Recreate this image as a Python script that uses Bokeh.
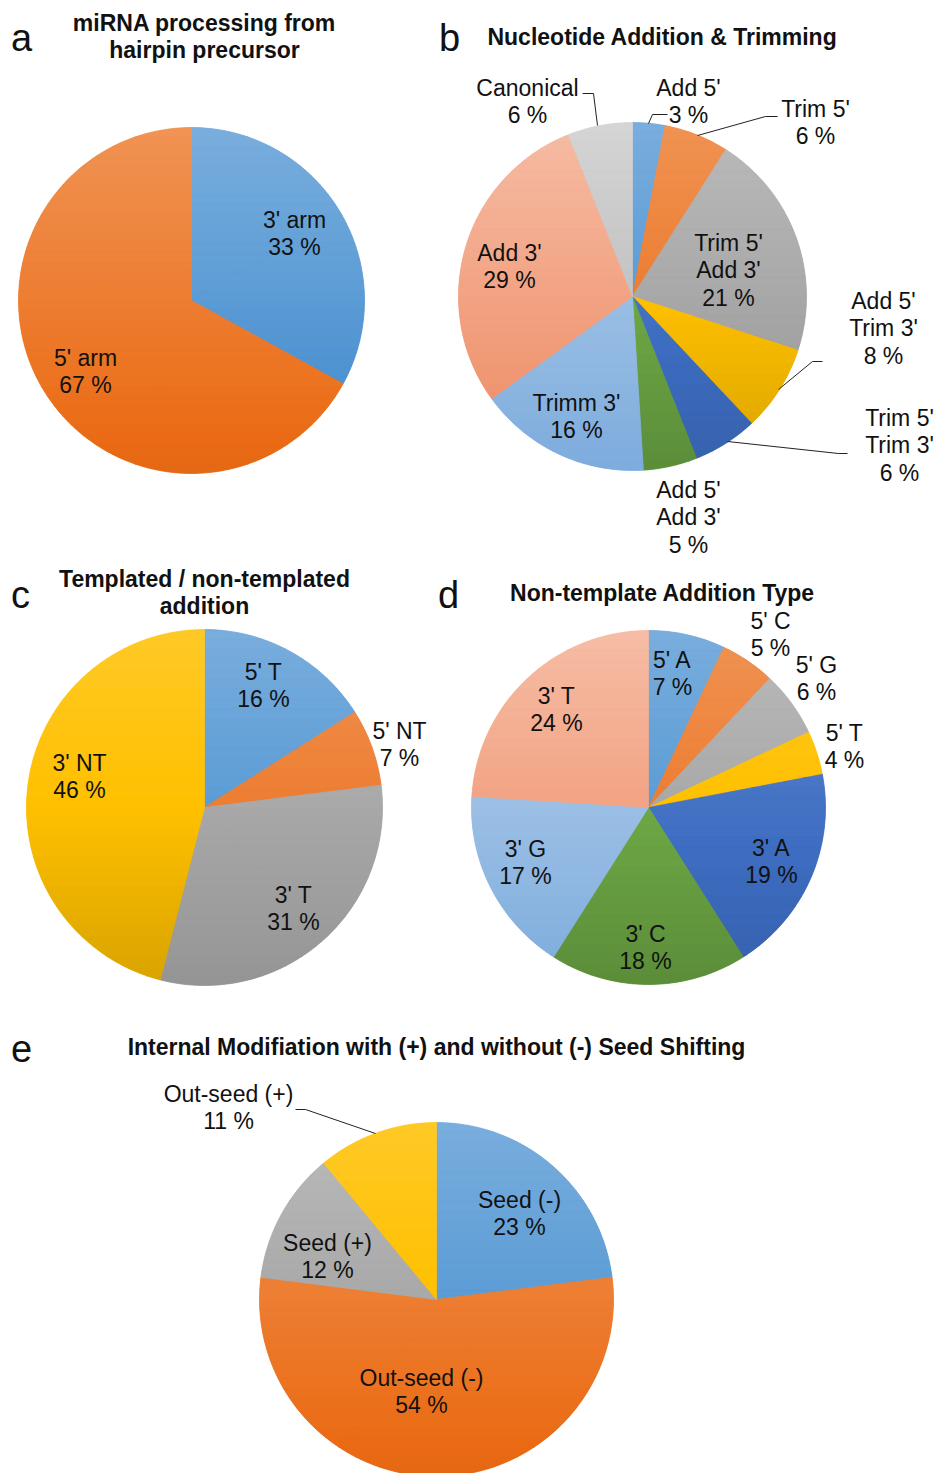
import math
import colorsys
from bokeh.plotting import figure
from bokeh.models import Range1d, ColumnDataSource
from bokeh.embed import file_html
from bokeh.resources import INLINE
from bokeh.core.properties import value

# ---------------- data ----------------
a_labels = ["3' arm", "5' arm"]
a_values = [33, 67]

b_labels = ["Add 5'", "Trim 5'", "Trim 5'\nAdd 3'", "Add 5'\nTrim 3'", "Trim 5'\nTrim 3'",
            "Add 5'\nAdd 3'", "Trimm 3'", "Add 3'", "Canonical"]
b_values = [3, 6, 21, 8, 6, 5, 16, 29, 6]

c_labels = ["5' T", "5' NT", "3' T", "3' NT"]
c_values = [16, 7, 31, 46]

d_labels = ["5' A", "5' C", "5' G", "5' T", "3' A", "3' C", "3' G", "3' T"]
d_values = [7, 5, 6, 4, 19, 18, 17, 24]

e_labels = ["Seed (-)", "Out-seed (-)", "Seed (+)", "Out-seed (+)"]
e_values = [23, 54, 12, 11]

titles = ["miRNA processing from\nhairpin precursor", "Nucleotide Addition & Trimming",
          "Templated / non-templated\naddition", "Non-template Addition Type",
          "Internal Modifiation with (+) and without (-) Seed Shifting"]
letters = ["a", "b", "c", "d", "e"]

# ---------------- styles / layout ----------------
BLUE, ORANGE, GRAY, GOLD = "#5B9BD5", "#ED7D31", "#A8A8A8", "#FFC000"
DBLUE, GREEN, LBLUE, LORANGE, LGRAY = "#4472C4", "#6DA845", "#9BBFE5", "#F2A383", "#C2C2C2"

FONT = "Liberation Sans"
W, H = 937, 1473

p = figure(width=W, height=H, output_backend="svg", toolbar_location=None,
           x_range=Range1d(0, W), y_range=Range1d(-H, 0),
           min_border=0, outline_line_color=None)
p.axis.visible = False
p.grid.visible = False
p.background_fill_color = "white"


def hex_to_rgb(h):
    h = h.lstrip("#")
    return tuple(int(h[i:i + 2], 16) / 255.0 for i in (0, 2, 4))


def shade_color(h, dl):
    r, g, b = hex_to_rgb(h)
    hh, ll, ss = colorsys.rgb_to_hls(r, g, b)
    ll = max(0.0, min(1.0, ll + dl))
    r, g, b = colorsys.hls_to_rgb(hh, ll, ss)
    return "#%02x%02x%02x" % (round(r * 255), round(g * 255), round(b * 255))


def clip_half(poly, yv, keep_above):
    out = []
    n = len(poly)
    for i in range(n):
        cur, prv = poly[i], poly[i - 1]
        cin = cur[1] >= yv if keep_above else cur[1] <= yv
        pin = prv[1] >= yv if keep_above else prv[1] <= yv
        if cin:
            if not pin:
                t = (yv - prv[1]) / (cur[1] - prv[1])
                out.append((prv[0] + t * (cur[0] - prv[0]), yv))
            out.append(cur)
        elif pin:
            t = (yv - prv[1]) / (cur[1] - prv[1])
            out.append((prv[0] + t * (cur[0] - prv[0]), yv))
    return out


def pie(cx, cy, r, labels, values, colors, label_pos, nb=36, amp=0.075):
    yc = -cy
    total = float(sum(values))
    cum = 0.0
    starts, ends = [], []
    for v in values:
        starts.append(math.pi / 2 - 2 * math.pi * cum / total)
        cum += v
        ends.append(math.pi / 2 - 2 * math.pi * cum / total)
    src = ColumnDataSource(dict(x=[cx] * len(values), y=[yc] * len(values),
                                start=starts, end=ends, color=colors))
    p.wedge(x="x", y="y", radius=r, start_angle="start", end_angle="end",
            direction="clock", fill_color="color", line_color=None, source=src)
    # vertical gradient (lighter top, deeper bottom), built band by band per slice;
    # each slice is split into convex sub-sectors (<= 90 deg) before clipping
    xs, ys, fc = [], [], []
    bh = 2.0 * r / nb
    for s, e, col in zip(starts, ends, colors):
        nsub = max(1, int(math.ceil(abs(e - s) / (math.pi / 2))))
        for j in range(nsub):
            s2 = s + (e - s) * j / nsub
            e2 = s + (e - s) * (j + 1) / nsub
            m = max(2, int(abs(e2 - s2) * 180 / math.pi * 2))
            poly = [(cx, yc)] + [(cx + r * math.cos(s2 + (e2 - s2) * i / m),
                                  yc + r * math.sin(s2 + (e2 - s2) * i / m)) for i in range(m + 1)]
            for k in range(nb):
                y1 = yc + r - k * bh
                y0 = y1 - bh
                q = clip_half(clip_half(poly, y0, True), y1, False)
                if len(q) < 3:
                    continue
                t = (k + 0.5) / nb
                xs.append([pt[0] for pt in q])
                ys.append([pt[1] for pt in q])
                fc.append(shade_color(col, amp * (1 - 2 * t)))
    gsrc = ColumnDataSource(dict(xs=xs, ys=ys, c=fc))
    p.patches("xs", "ys", source=gsrc, fill_color="c", line_color="c", line_width=0.7)

    texts = [f"{l}\n{v} %" for l, v in zip(labels, values)]
    tsrc = ColumnDataSource(dict(x=[q[0] for q in label_pos], y=[-q[1] for q in label_pos], t=texts))
    p.text(x="x", y="y", text="t", source=tsrc, text_font=value(FONT), text_font_size="23px",
           text_align="center", text_baseline="middle", text_color="#111111",
           text_line_height=1.07)


def leader(pts):
    p.line([q[0] for q in pts], [-q[1] for q in pts], line_color="#222222", line_width=1)


# a
pie(191, 300, 173, a_labels, a_values, [BLUE, ORANGE], [(294, 233), (85, 371)])
# b
pie(632, 296, 174, b_labels, b_values,
    [BLUE, ORANGE, GRAY, GOLD, DBLUE, GREEN, LBLUE, LORANGE, LGRAY],
    [(688, 101), (815, 122), (728, 270), (883, 328), (899, 445), (688, 517), (576, 416),
     (509, 266), (527, 101)])
leader([(582, 93), (593, 93), (597, 125)])
leader([(667, 114), (652, 114), (648, 123)])
leader([(777, 116), (765, 116), (697, 135)])
leader([(822, 361), (812, 361), (778, 389)])
leader([(847, 453), (838, 453), (727, 441)])
# c
pie(204, 807, 178, c_labels, c_values, [BLUE, ORANGE, GRAY, GOLD],
    [(263, 685), (399, 744), (293, 908), (79, 776)])
# d
pie(648, 807, 177, d_labels, d_values,
    [BLUE, ORANGE, GRAY, GOLD, DBLUE, GREEN, LBLUE, LORANGE],
    [(672, 673), (770, 634), (816, 678), (844, 746), (771, 861), (645, 947), (525, 862), (556, 709)])
# e
pie(436, 1299, 177, e_labels, e_values, [BLUE, ORANGE, GRAY, GOLD],
    [(519, 1213), (421, 1391), (327, 1256), (228, 1107)])
leader([(295, 1109), (305, 1109), (375, 1133)])

# titles
tpos = [(204, 36), (662, 36), (204, 592), (662, 592), (436, 1046)]
tsrc = ColumnDataSource(dict(x=[q[0] for q in tpos], y=[-q[1] for q in tpos], t=titles))
p.text(x="x", y="y", text="t", source=tsrc, text_font=value(FONT), text_font_size="23px",
       text_font_style="bold", text_align="center", text_baseline="middle", text_color="#111111",
       text_line_height=1.03)

# panel letters
lpos = [(21, 37), (449, 37), (20, 594), (448, 594), (21, 1048)]
lsrc = ColumnDataSource(dict(x=[q[0] for q in lpos], y=[-q[1] for q in lpos], t=letters))
p.text(x="x", y="y", text="t", source=lsrc, text_font=value(FONT), text_font_size="38px",
       text_align="center", text_baseline="middle", text_color="#111111")

open("out.html", "w").write(file_html(p, INLINE))
